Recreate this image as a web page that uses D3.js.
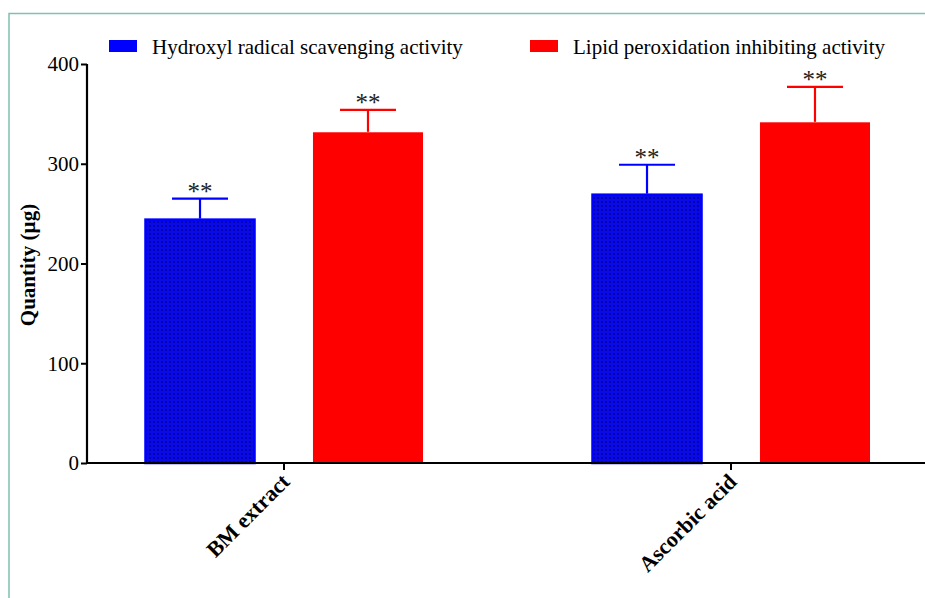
<!DOCTYPE html>
<html>
<head>
<meta charset="utf-8">
<script src="https://cdn.jsdelivr.net/npm/d3@7"></script>
<style>
  html, body { margin: 0; padding: 0; background: #fff; }
  svg { display: block; }
</style>
</head>
<body>
<svg id="chart" width="925" height="598"></svg>
<script>
const categories = ["BM extract", "Ascorbic acid"];
const series = ["Hydroxyl radical scavenging activity", "Lipid peroxidation inhibiting activity"];
const hydroxylValues = [245, 270];
const hydroxylErrors = [20, 29];
const lipidValues = [332, 342];
const lipidErrors = [22, 35];
const significance = ["**", "**"];
const yTicks = [0, 100, 200, 300, 400];
const yLabel = "Quantity (µg)";

(function () {
const colors = ["#0000ff", "#ff0000"];
const values = [hydroxylValues, lipidValues];
const errors = [hydroxylErrors, lipidErrors];

const svg = d3.select("#chart");
const W = 925, H = 598;
const mLeft = 87, mRight = 925, mTop = 64, mBottom = 463;
const serif = "Liberation Serif, Times New Roman, serif";

// frame
svg.append("path")
  .attr("d", `M9,${H} L9,13.5 L${W},13.5`)
  .attr("fill", "none").attr("stroke", "#7fc0b2").attr("stroke-width", 1.5);

// pattern for blue bars
const defs = svg.append("defs");
const pat = defs.append("pattern").attr("id", "bluePat")
  .attr("patternUnits", "userSpaceOnUse").attr("width", 4).attr("height", 4);
pat.append("rect").attr("width", 4).attr("height", 4).attr("fill", "#0a0ae6");
pat.append("circle").attr("cx", 2).attr("cy", 2).attr("r", 1.1).attr("fill", "#0000a8");

const y = d3.scaleLinear().domain([0, 400]).range([mBottom, mTop]);
const x0 = d3.scaleBand().domain(categories).range([60.5, 954.5]).padding(0);
const x1 = d3.scaleBand().domain(series).range([0, 279]).paddingInner(0.339).paddingOuter(0);
const groupOffset = c => x0(c) + x0.bandwidth() / 2 - 139.5;

series.forEach((s, si) => {
  const data = categories.map((c, ci) => ({ c, v: values[si][ci], e: errors[si][ci], sig: significance[ci] }));
  const g = svg.append("g");
  g.selectAll("line.err").data(data).enter().append("line")
    .attr("x1", d => groupOffset(d.c) + x1(s) + x1.bandwidth() / 2)
    .attr("x2", d => groupOffset(d.c) + x1(s) + x1.bandwidth() / 2)
    .attr("y1", d => y(d.v)).attr("y2", d => y(d.v + d.e))
    .attr("stroke", colors[si]).attr("stroke-width", 2.2);
  g.selectAll("line.cap").data(data).enter().append("line")
    .attr("x1", d => groupOffset(d.c) + x1(s) + x1.bandwidth() / 2 - 28)
    .attr("x2", d => groupOffset(d.c) + x1(s) + x1.bandwidth() / 2 + 28)
    .attr("y1", d => y(d.v + d.e)).attr("y2", d => y(d.v + d.e))
    .attr("stroke", colors[si]).attr("stroke-width", 2.2);
  g.selectAll("rect").data(data).enter().append("rect")
    .attr("x", d => groupOffset(d.c) + x1(s) + 1)
    .attr("y", d => y(d.v) + 1)
    .attr("width", x1.bandwidth() - 2)
    .attr("height", d => y(0) - y(d.v) - 1)
    .attr("fill", si === 0 ? "url(#bluePat)" : colors[si])
    .attr("stroke", colors[si]).attr("stroke-width", si === 0 ? 2.5 : 1);
  g.selectAll("text").data(data).enter().append("text")
    .attr("x", d => groupOffset(d.c) + x1(s) + x1.bandwidth() / 2)
    .attr("y", d => y(d.v + d.e) + 1)
    .attr("text-anchor", "middle")
    .attr("font-family", serif).attr("font-size", 25).attr("fill", "#222")
    .text(d => d.sig);
});

// y axis
const yAxis = svg.append("g").attr("transform", `translate(${mLeft},0)`)
  .call(d3.axisLeft(y).tickValues(yTicks).tickSize(6).tickPadding(2).tickFormat(d3.format("d")));
yAxis.select(".domain").attr("stroke", "#000").attr("stroke-width", 2.2).attr("d", `M0,${mTop}V${mBottom}`);
yAxis.selectAll(".tick line").attr("stroke", "#000").attr("stroke-width", 2);
yAxis.selectAll(".tick text").attr("font-family", serif).attr("font-size", 21).attr("fill", "#000").attr("dy", "0.33em");

// x axis
const xAxis = svg.append("g").attr("transform", `translate(0,${mBottom})`)
  .call(d3.axisBottom(x0).tickSize(7).tickSizeOuter(0).tickPadding(0));
xAxis.select(".domain").attr("stroke", "#000").attr("stroke-width", 2.2).attr("d", `M${mLeft - 1},0H${mRight}`);
xAxis.selectAll(".tick line").attr("stroke", "#000").attr("stroke-width", 2);
xAxis.selectAll(".tick text")
  .attr("font-family", serif).attr("font-size", 22).attr("font-weight", "bold").attr("fill", "#000")
  .attr("text-anchor", "end").attr("dy", null).attr("y", 0)
  .attr("transform", "translate(7,20) rotate(-45)");

// y label
svg.append("text")
  .attr("transform", `translate(35,265) rotate(-90)`)
  .attr("text-anchor", "middle")
  .attr("font-family", serif).attr("font-size", 21).attr("font-weight", "bold")
  .text(yLabel);

// legend
const legendX = [109, 530];
series.forEach((s, i) => {
  svg.append("rect").attr("x", legendX[i]).attr("y", 40).attr("width", 28).attr("height", 12)
    .attr("fill", colors[i]);
  svg.append("text").attr("x", legendX[i] + 43).attr("y", 54)
    .attr("font-family", serif).attr("font-size", 21).attr("fill", "#000")
    .text(s);
});
})();
</script>
</body>
</html>
